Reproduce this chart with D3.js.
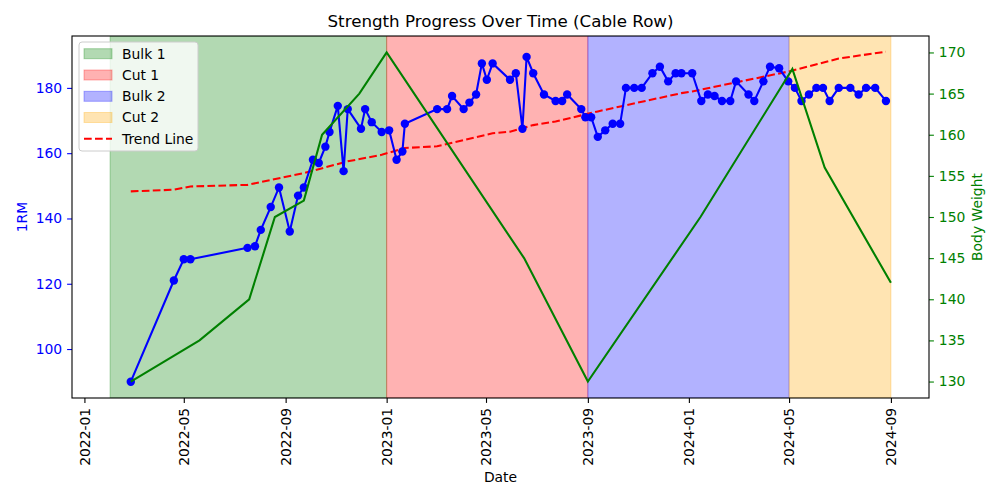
<!DOCTYPE html>
<html><head><meta charset="utf-8">
<script src="https://cdn.jsdelivr.net/npm/d3@7"></script>
<style>
html,body{margin:0;padding:0;background:#fff;}
svg{display:block;font-family:"DejaVu Sans",sans-serif;}
</style></head>
<body>
<svg id="chart" width="1000" height="500"></svg>
<script>
// ---------- data ----------
const rmDates = ["2022-02-26","2022-04-19","2022-05-01","2022-05-09","2022-07-17","2022-07-26","2022-08-02","2022-08-14","2022-08-24","2022-09-06","2022-09-16","2022-09-23","2022-10-04","2022-10-11","2022-10-19","2022-10-24","2022-11-03","2022-11-10","2022-11-15","2022-12-01","2022-12-06","2022-12-14","2022-12-26","2023-01-04","2023-01-13","2023-01-20","2023-01-23","2023-03-03","2023-03-15","2023-03-21","2023-04-04","2023-04-11","2023-04-19","2023-04-26","2023-05-02","2023-05-09","2023-05-30","2023-06-06","2023-06-14","2023-06-19","2023-06-27","2023-07-10","2023-07-24","2023-08-01","2023-08-07","2023-08-24","2023-08-29","2023-09-05","2023-09-13","2023-09-22","2023-10-01","2023-10-10","2023-10-17","2023-10-27","2023-11-05","2023-11-18","2023-11-27","2023-12-07","2023-12-16","2023-12-23","2024-01-05","2024-01-16","2024-01-24","2024-02-01","2024-02-10","2024-02-20","2024-02-27","2024-03-13","2024-03-20","2024-03-31","2024-04-08","2024-04-19","2024-04-30","2024-05-08","2024-05-16","2024-05-25","2024-06-03","2024-06-11","2024-06-19","2024-06-30","2024-07-14","2024-07-24","2024-08-02","2024-08-13","2024-08-26"];
const rmValues = [90,121,127.5,127.5,131,131.5,136.5,143.5,149.5,136,147,149.5,158,157,162,166.5,174.5,154.5,173.5,167.5,173.5,169.5,166.5,167,158,160.5,169,173.5,173.5,177.5,173.5,175.5,178,187.5,182.5,187.5,182.5,184.5,167.5,189.5,184.5,178,176,176,178,173.5,171,171,165,167,169,169,180,180,180,184.5,186.5,182,184.5,184.5,184.5,176,178,177.5,176,176,182,178,176,182,186.5,186,182,180,176,178,180,180,176,180,180,178,180,180,176];

const bwDates = ["2022-02-26","2022-05-20","2022-07-19","2022-08-19","2022-09-23","2022-10-15","2022-11-29","2023-01-01","2023-06-16","2023-09-01","2024-01-15","2024-05-05","2024-06-13","2024-09-01"];
const bwValues = [130,135,140,150,152,160,165,170,145,130,150,168,156,142];

const trendDates = ["2022-02-26","2022-04-19","2022-05-09","2022-07-17","2022-09-23","2022-11-15","2022-12-26","2023-01-23","2023-03-03","2023-05-09","2023-05-30","2023-06-27","2023-07-24","2023-09-13","2023-12-23","2024-01-05","2024-04-30","2024-06-30","2024-08-26"];
const trendValues = [148.3,148.8,149.8,150.3,153.9,157.5,159.5,161.6,162.1,166.1,166.6,168.6,169.7,172.8,178.4,178.9,185.0,189.0,191.1];

const phaseNames = ["Bulk 1","Cut 1","Bulk 2","Cut 2"];
const phaseStarts = ["2022-02-01","2023-01-01","2023-09-01","2024-05-01"];
const phaseEnds = ["2023-01-01","2023-09-01","2024-05-01","2024-09-01"];
const phaseColors = ["green","red","blue","orange"];

const xTickLabels = ["2022-01","2022-05","2022-09","2023-01","2023-05","2023-09","2024-01","2024-05","2024-09"];
const yLeftTicks = [100,120,140,160,180];
const yRightTicks = [130,135,140,145,150,155,160,165,170];

// ---------- layout ----------
const L = 72, R = 929, T = 36, B = 398;
const parse = d3.utcParse("%Y-%m-%d");
const parseM = d3.utcParse("%Y-%m");
const svg = d3.select("#chart");

const x = d3.scaleUtc().domain([parse("2021-12-17"), parse("2024-10-17")]).range([L, R]);
const yL = d3.scaleLinear().domain([85, 195.9]).range([B, T]);
const yR = d3.scaleLinear().domain([128, 172]).range([B, T]);

const clip = svg.append("clipPath").attr("id","clip").append("rect")
  .attr("x",L).attr("y",T).attr("width",R-L).attr("height",B-T);
const plot = svg.append("g").attr("clip-path","url(#clip)");

// phase spans
plot.selectAll("rect.span").data(phaseNames).enter().append("rect")
  .attr("class","span")
  .attr("x",(d,i)=>x(parse(phaseStarts[i])))
  .attr("width",(d,i)=>x(parse(phaseEnds[i]))-x(parse(phaseStarts[i])))
  .attr("y",T).attr("height",B-T)
  .attr("fill",(d,i)=>phaseColors[i]).attr("fill-opacity",0.3)
  .attr("stroke",(d,i)=>phaseColors[i]).attr("stroke-opacity",0.3).attr("stroke-width",1);

// trend line
const trendData = trendDates.map((d,i)=>({d:parse(d), v:trendValues[i]}));
plot.append("path").datum(trendData)
  .attr("d", d3.line().x(p=>x(p.d)).y(p=>yL(p.v)))
  .attr("fill","none").attr("stroke","red").attr("stroke-width",2.08)
  .attr("stroke-dasharray","7.7,3.3");

// 1RM line
const rmData = rmDates.map((d,i)=>({d:parse(d), v:rmValues[i]}));
plot.append("path").datum(rmData)
  .attr("d", d3.line().x(p=>x(p.d)).y(p=>yL(p.v)))
  .attr("fill","none").attr("stroke","blue").attr("stroke-width",2.08);
plot.selectAll("circle.rm").data(rmData).enter().append("circle")
  .attr("class","rm").attr("cx",p=>x(p.d)).attr("cy",p=>yL(p.v)).attr("r",4.2)
  .attr("fill","blue");

// body weight
const bwData = bwDates.map((d,i)=>({d:parse(d), v:bwValues[i]}));
plot.append("path").datum(bwData)
  .attr("d", d3.line().x(p=>x(p.d)).y(p=>yR(p.v)))
  .attr("fill","none").attr("stroke","green").attr("stroke-width",2.08);

// ---------- axes ----------
const fs = "13.9px";
const xAxis = svg.append("g").attr("transform",`translate(0,${B})`)
  .call(d3.axisBottom(x).tickValues(xTickLabels.map(s=>parseM(s))).tickSize(4.9).tickFormat((d,i)=>xTickLabels[i]));
xAxis.select(".domain").remove();
xAxis.selectAll("line").attr("stroke","black").attr("stroke-width",1.1);
xAxis.selectAll("text").attr("font-size",fs).attr("fill","black")
  .attr("text-anchor","end").attr("y",0).attr("dy","0.35em")
  .attr("transform","translate(0,9.8) rotate(-90)");
xAxis.attr("font-family",null);

const lAxis = svg.append("g").attr("transform",`translate(${L},0)`)
  .call(d3.axisLeft(yL).tickValues(yLeftTicks).tickSize(4.9).tickPadding(4.9));
lAxis.select(".domain").remove();
lAxis.selectAll("line").attr("stroke","blue").attr("stroke-width",1.1);
lAxis.selectAll("text").attr("font-size",fs).attr("fill","blue");
lAxis.attr("font-family",null);

const rAxis = svg.append("g").attr("transform",`translate(${R},0)`)
  .call(d3.axisRight(yR).tickValues(yRightTicks).tickSize(4.9).tickPadding(4.9));
rAxis.select(".domain").remove();
rAxis.selectAll("line").attr("stroke","green").attr("stroke-width",1.1);
rAxis.selectAll("text").attr("font-size",fs).attr("fill","green");
rAxis.attr("font-family",null);

// frame
svg.append("rect").attr("x",L).attr("y",T).attr("width",R-L).attr("height",B-T)
  .attr("fill","none").attr("stroke","black").attr("stroke-width",1.1);

// labels
svg.append("text").attr("x",(L+R)/2).attr("y",27).attr("text-anchor","middle")
  .attr("font-size","16.7px").text("Strength Progress Over Time (Cable Row)");
svg.append("text").attr("x",(L+R)/2).attr("y",482).attr("text-anchor","middle")
  .attr("font-size",fs).text("Date");
svg.append("text").attr("transform",`translate(27,${(T+B)/2}) rotate(-90)`).attr("text-anchor","middle")
  .attr("font-size",fs).attr("fill","blue").text("1RM");
svg.append("text").attr("transform",`translate(982,${(T+B)/2}) rotate(-90)`).attr("text-anchor","middle")
  .attr("font-size",fs).attr("fill","green").text("Body Weight");

// legend
const lg = svg.append("g");
lg.append("rect").attr("x",79).attr("y",42).attr("width",119).attr("height",109).attr("rx",3)
  .attr("fill","white").attr("fill-opacity",0.8).attr("stroke","#cccccc").attr("stroke-width",1);
const rowY = [53.7,75,96.3,117.5,138.7];
phaseNames.forEach((n,i)=>{
  lg.append("rect").attr("x",84).attr("y",rowY[i]-5).attr("width",28).attr("height",10)
    .attr("fill",phaseColors[i]).attr("fill-opacity",0.3)
    .attr("stroke",phaseColors[i]).attr("stroke-opacity",0.3);
  lg.append("text").attr("x",122).attr("y",rowY[i]).attr("dy","0.35em").attr("font-size",fs).text(n);
});
lg.append("line").attr("x1",84).attr("x2",112).attr("y1",rowY[4]).attr("y2",rowY[4])
  .attr("stroke","red").attr("stroke-width",2.08).attr("stroke-dasharray","7.7,3.3");
lg.append("text").attr("x",122).attr("y",rowY[4]).attr("dy","0.35em").attr("font-size",fs).text("Trend Line");
</script>
</body></html>
